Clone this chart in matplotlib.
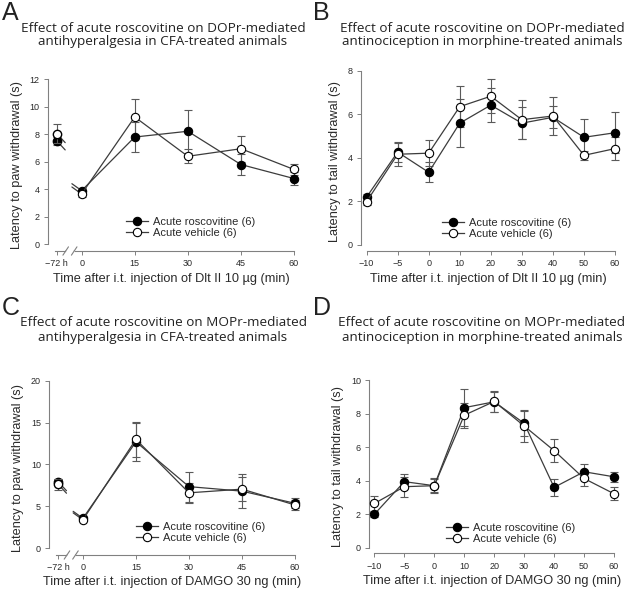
import matplotlib
matplotlib.use('Agg')
import matplotlib.pyplot as plt

# ---------- data ----------
t_cfa = [0, 15, 30, 45, 60]
t_mor = ['\u221210', '\u22125', '0', '10', '20', '30', '40', '50', '60']
cfa_ticks = ['\u221272 h', '0', '15', '30', '45', '60']

# A: DOPr, CFA (baseline at -72 h kept apart)
A_base_ros, A_base_ros_err = 7.52, 0.3
A_base_veh, A_base_veh_err = 8.05, 0.68
A_ros = [3.9, 7.8, 8.22, 5.8, 4.78]
A_ros_err = [0.2, 1.1, 1.55, 0.78, 0.5]
A_veh = [3.66, 9.26, 6.4, 6.95, 5.44]
A_veh_err = [0.25, 1.3, 0.5, 0.95, 0.4]

# B: DOPr, morphine
B_ros = [2.2, 4.27, 3.34, 5.6, 6.43, 5.6, 5.87, 4.95, 5.16]
B_ros_err = [0.15, 0.45, 0.46, 1.1, 0.78, 0.75, 0.5, 0.85, 0.94]
B_veh = [1.99, 4.17, 4.22, 6.36, 6.84, 5.76, 5.93, 4.12, 4.43]
B_veh_err = [0.15, 0.52, 0.6, 0.95, 0.77, 0.9, 0.87, 0.2, 0.52]

# C: MOPr, CFA
C_base_ros, C_base_ros_err = 7.95, 0.3
C_base_veh, C_base_veh_err = 7.65, 0.65
C_ros = [3.58, 12.7, 7.36, 6.82, 5.37]
C_ros_err = [0.2, 2.3, 1.8, 2.0, 0.6]
C_veh = [3.4, 13.0, 6.62, 7.06, 5.17]
C_veh_err = [0.2, 2.1, 1.2, 1.4, 0.6]

# D: MOPr, morphine
D_ros = [2.0, 3.94, 3.7, 8.35, 8.7, 7.42, 3.6, 4.53, 4.23]
D_ros_err = [0.15, 0.43, 0.4, 1.1, 0.6, 0.75, 0.5, 0.44, 0.3]
D_veh = [2.64, 3.64, 3.7, 7.9, 8.72, 7.26, 5.79, 4.13, 3.22]
D_veh_err = [0.44, 0.6, 0.45, 0.75, 0.6, 0.94, 0.7, 0.45, 0.38]

lab_ros = 'Acute roscovitine (6)'
lab_veh = 'Acute vehicle (6)'

# ---------- style ----------
W, H = 629, 590
LINE = '#3c3c3c'
ERR = '#5a5a5a'
AXC = '#808080'
TXT = '#2a2a2a'
BASE_X = -7          # where the -72 h point sits on the x axis
TITLE_FONT = ['Open Sans', 'DejaVu Sans']
AX_FONT = ['Liberation Sans', 'DejaVu Sans']

fig = plt.figure(figsize=(W / 100, H / 100), dpi=100)


def box(left, top, right, bottom):
    # pixel box -> figure fraction
    return [left / W, 1 - bottom / H, (right - left) / W, (bottom - top) / H]


def series(ax, x, y, err, filled, label):
    ax.errorbar(x, y, yerr=err, fmt='none', ecolor=ERR, elinewidth=0.8,
                capsize=3, capthick=0.8, clip_on=False, zorder=2)
    ax.plot(x, y, '-o', color=LINE, lw=0.9, ms=6,
            mfc='black' if filled else 'white', mec='black', mew=0.8,
            label=label, clip_on=False, zorder=3)


def stub(ax, x, y, dx, dy):
    # short broken-line stub, dx/dy in points
    ax.annotate('', xy=(x, y), xycoords='data', xytext=(dx, dy),
                textcoords='offset points',
                arrowprops=dict(arrowstyle='-', color=LINE, lw=0.9,
                                shrinkA=0, shrinkB=0), zorder=1)


def style(ax, ymax, ystep, ybot, xmin, xmax, xspine):
    ax.set_ylim(ybot, ymax)
    ax.set_yticks(range(0, ymax + 1, ystep))
    for s in ['top', 'right']:
        ax.spines[s].set_visible(False)
    for s in ['left', 'bottom']:
        ax.spines[s].set_color(AXC)
        ax.spines[s].set_linewidth(0.8)
    ax.spines['left'].set_bounds(0, ymax)
    ax.spines['bottom'].set_bounds(xspine, xmax)
    ax.set_xlim(xmin, xmax)
    ax.tick_params(direction='out', length=3, width=0.7, color=AXC,
                   labelsize=6.5, labelcolor=TXT, pad=3)
    for t in ax.get_xticklabels() + ax.get_yticklabels():
        t.set_family(AX_FONT)


def legend(ax, x, y):
    lg = ax.legend(loc='upper left', bbox_to_anchor=(x / W, 1 - y / H),
                   bbox_transform=fig.transFigure, frameon=False,
                   borderpad=0, borderaxespad=0, labelspacing=0.05,
                   handlelength=2.0, handletextpad=0.4,
                   prop={'family': AX_FONT, 'size': 8})
    for t in lg.get_texts():
        t.set_color(TXT)


def cfa_break(ax, ybot):
    # piece of axis left of the break and the two slashes
    ax.plot([-7.6, -4.7], [ybot, ybot], color=AXC, lw=0.8, clip_on=False)
    for xb in [-4.5, -2.1]:
        for d in [(-2, -3), (2, 3)]:
            ax.annotate('', xy=(xb, ybot), xycoords='data', xytext=d,
                        textcoords='offset points',
                        arrowprops=dict(arrowstyle='-', color=AXC, lw=0.8,
                                        shrinkA=0, shrinkB=0))


def labels(ax, xlabel, ylabel):
    ax.set_xlabel(xlabel, fontsize=9.2, family=AX_FONT, color=TXT, labelpad=3)
    ax.set_ylabel(ylabel, fontsize=9.2, family=AX_FONT, color=TXT, labelpad=5)


def cfa_panel(rect, ymax, ystep, ybot, base, ros, ros_err, veh, veh_err, xlabel):
    ax = fig.add_axes(rect)
    series(ax, t_cfa, ros, ros_err, True, lab_ros)
    series(ax, t_cfa, veh, veh_err, False, lab_veh)
    (br, bre), (bv, bve) = base
    ax.errorbar([BASE_X], [br], yerr=[bre], fmt='o', color=ERR, ms=6,
                mfc='black', mec='black', capsize=3, elinewidth=0.8,
                capthick=0.8, clip_on=False, zorder=3)
    ax.errorbar([BASE_X], [bv], yerr=[bve], fmt='o', color=ERR, ms=6,
                mfc='white', mec='black', capsize=3, elinewidth=0.8,
                capthick=0.8, clip_on=False, zorder=4)
    for v in [br, bv]:
        stub(ax, BASE_X, v, 6, -6.5)
    for v in [ros[0], veh[0]]:
        stub(ax, 0, v, -7, 5)
    style(ax, ymax, ystep, ybot, -9.5, 60, -1.9)
    cfa_break(ax, ybot)
    ax.set_xticks([BASE_X] + t_cfa)
    ax.set_xticklabels(cfa_ticks)
    labels(ax, xlabel, 'Latency to paw withdrawal (s)')
    return ax


def mor_panel(rect, ymax, ystep, ybot, xmin, ros, ros_err, veh, veh_err, xlabel):
    ax = fig.add_axes(rect)
    pos = range(len(t_mor))   # evenly spaced categories
    series(ax, pos, ros, ros_err, True, lab_ros)
    series(ax, pos, veh, veh_err, False, lab_veh)
    style(ax, ymax, ystep, ybot, xmin, len(t_mor) - 1, 0)
    ax.set_xticks(list(pos))
    ax.set_xticklabels(t_mor)
    labels(ax, xlabel, 'Latency to tail withdrawal (s)')
    return ax


axA = cfa_panel(box(48, 79.3, 294, 251), 12, 2, -0.49,
                ((A_base_ros, A_base_ros_err), (A_base_veh, A_base_veh_err)),
                A_ros, A_ros_err, A_veh, A_veh_err,
                'Time after i.t. injection of Dlt II 10 \u00b5g (min)')
legend(axA, 126, 217)

axB = mor_panel(box(361, 71, 615, 251), 8, 2, -0.28, -0.18,
                B_ros, B_ros_err, B_veh, B_veh_err,
                'Time after i.t. injection of Dlt II 10 \u00b5g (min)')
legend(axB, 442, 218)

axC = cfa_panel(box(49.3, 380.7, 295, 555), 20, 5, -0.8,
                ((C_base_ros, C_base_ros_err), (C_base_veh, C_base_veh_err)),
                C_ros, C_ros_err, C_veh, C_veh_err,
                'Time after i.t. injection of DAMGO 30 ng (min)')
legend(axC, 136, 522)

axD = mor_panel(box(369.3, 380, 614, 553.3), 10, 2, -0.33, -0.17,
                D_ros, D_ros_err, D_veh, D_veh_err,
                'Time after i.t. injection of DAMGO 30 ng (min)')
legend(axD, 446, 523)

# titles and panel letters: (letter, x, baseline y, title, centre x, centre y)
titles = [
    ('A', 2, 20, 'Effect of acute roscovitine on DOPr-mediated\nantihyperalgesia in CFA-treated animals', 163, 35),
    ('B', 313, 20, 'Effect of acute roscovitine on DOPr-mediated\nantinociception in morphine-treated animals', 482, 35),
    ('C', 2, 315, 'Effect of acute roscovitine on MOPr-mediated\nantihyperalgesia in CFA-treated animals', 163, 330),
    ('D', 313, 315, 'Effect of acute roscovitine on MOPr-mediated\nantinociception in morphine-treated animals', 482, 330),
]
for letter, lx, ly, text, tx, ty in titles:
    fig.text(lx / W, 1 - ly / H, letter, fontsize=18, family=AX_FONT,
             color='#222222', ha='left', va='baseline')
    fig.text(tx / W, 1 - ty / H, text, fontsize=9.7, family=TITLE_FONT,
             color='#222222', ha='center', va='center', linespacing=1.1)

fig.savefig('out.png', dpi=100)
